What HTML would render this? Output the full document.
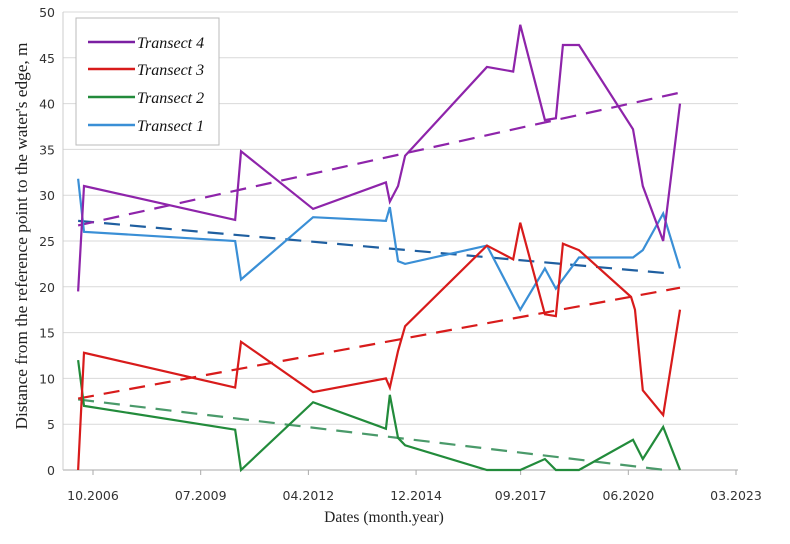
<!DOCTYPE html>
<html><head><meta charset="utf-8"><style>
body{margin:0;background:#fff;width:790px;height:544px;overflow:hidden}
svg{display:block}
.tk{font-family:"DejaVu Sans","Liberation Sans",sans-serif;font-size:12.5px;fill:#333}
</style></head><body>
<svg id="chart" width="790" height="544">
<g id="grid"></g>
<g id="axes"></g>
<g id="series"></g>
<text x="384" y="522" text-anchor="middle" font-family="Liberation Serif,serif" font-size="15.5" fill="#222">Dates (month.year)</text>
<text transform="translate(27,236) rotate(-90)" text-anchor="middle" font-family="Liberation Serif,serif" font-size="17.3" fill="#222">Distance from the reference point to the water's edge, m</text>
<g>
<rect x="76" y="18" width="143" height="127" fill="#fff" stroke="#bbb"/>
<g><line x1="88" y1="42" x2="135" y2="42" stroke="#7b1fa2" stroke-width="2.5"/><text x="137" y="48" font-family="Liberation Serif,serif" font-style="italic" font-size="16" fill="#111">Transect 4</text></g>
<g><line x1="88" y1="69" x2="135" y2="69" stroke="#d81b1b" stroke-width="2.5"/><text x="137" y="75" font-family="Liberation Serif,serif" font-style="italic" font-size="16" fill="#111">Transect 3</text></g>
<g><line x1="88" y1="97" x2="135" y2="97" stroke="#228b3b" stroke-width="2.5"/><text x="137" y="103" font-family="Liberation Serif,serif" font-style="italic" font-size="16" fill="#111">Transect 2</text></g>
<g><line x1="88" y1="125" x2="135" y2="125" stroke="#3a8fd6" stroke-width="2.5"/><text x="137" y="131" font-family="Liberation Serif,serif" font-style="italic" font-size="16" fill="#111">Transect 1</text></g>
</g>
</svg>
<script>
const yTicks=[0,5,10,15,20,25,30,35,40,45,50];
const xTickYears=[2006.75,2009.5,2012.25,2015.0,2017.67,2020.42,2023.17];
const xTickLabels=["10.2006","07.2009","04.2012","12.2014","09.2017","06.2020","03.2023"];
const dates4=[2006.37,2006.52,2010.38,2010.53,2012.37,2014.23,2014.33,2014.54,2014.72,2016.81,2017.48,2017.66,2018.29,2018.57,2018.75,2019.16,2020.54,2020.79,2021.31,2021.74];
const values4=[19.5,31,27.3,34.8,28.5,31.4,29.3,31,34.3,44,43.5,48.6,38.2,38.4,46.4,46.4,37.2,31,25,40];
const dates3=[2006.37,2006.52,2010.38,2010.53,2012.37,2014.23,2014.33,2014.54,2014.72,2016.81,2017.48,2017.66,2018.29,2018.57,2018.75,2019.16,2020.49,2020.59,2020.79,2021.31,2021.74];
const values3=[0,12.8,9,14,8.5,10,9,13,15.7,24.5,23,27,17,16.8,24.7,24,18.9,17.5,8.7,6,17.5];
const dates2=[2006.37,2006.52,2010.38,2010.53,2012.37,2014.23,2014.33,2014.54,2014.72,2016.81,2017.66,2018.29,2018.57,2019.16,2020.54,2020.79,2021.31,2021.74];
const values2=[12,7,4.4,0,7.4,4.5,8.2,3.5,2.7,0,0,1.2,0,0,3.3,1.2,4.7,0];
const dates1=[2006.37,2006.52,2010.38,2010.53,2012.37,2014.23,2014.33,2014.54,2014.72,2016.81,2017.66,2018.29,2018.57,2019.16,2020.54,2020.79,2021.31,2021.74];
const values1=[31.8,26,25,20.8,27.6,27.2,28.7,22.8,22.5,24.5,17.5,22,19.8,23.2,23.2,24,28,22];
const trendDates=[2006.37,2021.74];
const trend4=[26.7,41.2];
const trend3=[7.8,19.9];
const trend2=[7.7,0];
const trend1=[27.2,21.5];
const trendDates2=[2006.37,2021.36];

const NS="http://www.w3.org/2000/svg";
const L=63,R=738,T=12,B=470;
const X=t=>93+(t-2006.75)*39.16;
const Y=v=>B-(v/50)*(B-T);
function mk(tag,attrs,parent){const e=document.createElementNS(NS,tag);for(const k in attrs)e.setAttribute(k,attrs[k]);parent.appendChild(e);return e;}
const grid=document.getElementById('grid'),axes=document.getElementById('axes'),ser=document.getElementById('series');
yTicks.forEach(v=>{
  const l=mk('line',{x1:L,x2:R,y1:Y(v),y2:Y(v),stroke:v===0?'#aaa':'#d9d9d9','stroke-width':1},grid);
  
  
  const t=mk('text',{x:L-8,y:Y(v)+5,'text-anchor':'end',class:'tk'},axes);
  t.textContent=v;
  
  
});
mk('line',{x1:L,x2:L,y1:T,y2:B,stroke:'#ccc'},axes);
xTickYears.forEach((yr,i)=>{
  const x=X(yr);
  const tk=mk('line',{x1:x,x2:x,y1:B,y2:B+5,stroke:'#aaa'},axes);
  
  
  const t=mk('text',{x:x,y:B+30,'text-anchor':'middle',class:'tk'},axes);
  t.textContent=xTickLabels[i];
  
  
});
function line(ds,vs,color,dash,name){
  const p=mk('polyline',{points:ds.map((d,i)=>X(d)+','+Y(vs[i])).join(' '),fill:'none',stroke:color,'stroke-width':2.2,'stroke-linejoin':'miter'},ser);
  if(dash)p.setAttribute('stroke-dasharray','16,10');
  
  
}
line(trendDates2,trend2,'#4a9a6a',true,'trend-transect-2');
line(trendDates2,trend1,'#1f5fa0',true,'trend-transect-1');
line(trendDates,trend3,'#d81b1b',true,'trend-transect-3');
line(trendDates,trend4,'#8e24aa',true,'trend-transect-4');
line(dates2,values2,'#228b3b',false,'line-transect-2');
line(dates1,values1,'#3a8fd6',false,'line-transect-1');
line(dates3,values3,'#d81b1b',false,'line-transect-3');
line(dates4,values4,'#8e24aa',false,'line-transect-4');
</script>
</body></html>
